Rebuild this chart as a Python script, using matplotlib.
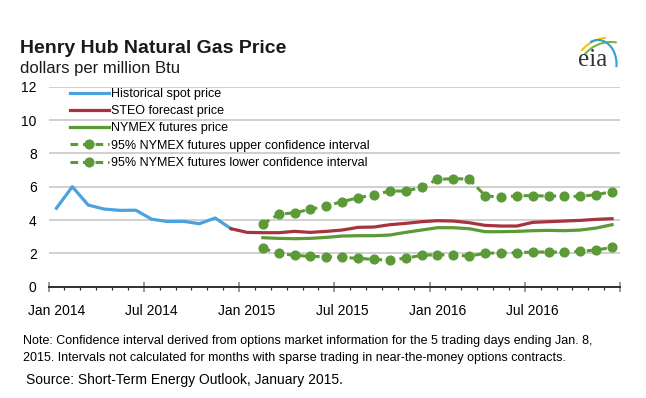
import numpy as np
import matplotlib
matplotlib.use('Agg')
import matplotlib.pyplot as plt

plt.rcParams['font.family'] = ['Liberation Sans', 'DejaVu Sans']

# meses contados a partir de Jan 2014 (0 = Jan 2014), valores em dólares por milhão de Btu
spot_months = list(range(0, 12))
spot_price = [4.71, 6.00, 4.90, 4.66, 4.58, 4.59, 4.05, 3.91, 3.92, 3.78, 4.12, 3.48]

steo_months = list(range(11, 36))
steo_price = [3.48, 3.26, 3.24, 3.24, 3.32, 3.26, 3.32, 3.40, 3.56, 3.58, 3.72, 3.80, 3.90,
              3.96, 3.94, 3.84, 3.68, 3.64, 3.64, 3.86, 3.90, 3.94, 3.98, 4.04, 4.08]

nymex_months = list(range(13, 36))
nymex_price = [2.94, 2.90, 2.88, 2.90, 2.96, 3.04, 3.06, 3.06, 3.10, 3.26, 3.40,
               3.54, 3.54, 3.48, 3.30, 3.30, 3.32, 3.36, 3.38, 3.36, 3.40, 3.52, 3.72]
upper_ci = [3.76, 4.34, 4.44, 4.64, 4.86, 5.10, 5.34, 5.50, 5.74, 5.74, 5.96,
            6.44, 6.48, 6.46, 5.46, 5.36, 5.46, 5.46, 5.44, 5.44, 5.42, 5.52, 5.70]
lower_ci = [2.30, 2.00, 1.88, 1.82, 1.80, 1.76, 1.70, 1.64, 1.58, 1.72, 1.88,
            1.92, 1.90, 1.84, 2.00, 2.04, 2.04, 2.08, 2.08, 2.08, 2.12, 2.20, 2.36]

tick_labels = ['Jan 2014', 'Jul 2014', 'Jan 2015', 'Jul 2015', 'Jan 2016', 'Jul 2016']
tick_months = [0, 6, 12, 18, 24, 30]

blue = '#4aa3df'
red = '#a6343f'
green = '#5b9a36'

W, H = 646, 398
fig = plt.figure(figsize=(W / 100, H / 100), dpi=100)
ax = fig.add_axes([48.5 / W, 1 - 286.7 / H, (620 - 48.5) / W, 200 / H])


def mid(months):
    # pontos ficam no meio de cada mês
    return np.array(months) + 0.5


ax.plot(mid(spot_months), spot_price, color=blue, lw=2.3, solid_joinstyle='round',
        label='Historical spot price')
ax.plot(mid(steo_months), steo_price, color=red, lw=2.3, label='STEO forecast price')
ax.plot(mid(nymex_months), nymex_price, color=green, lw=2.3, label='NYMEX futures price')
ax.plot(mid(nymex_months), upper_ci, color=green, lw=2.2, ls=(0, (2.5, 1.6)),
        marker='o', ms=6.3, label='95% NYMEX futures upper confidence interval')
ax.plot(mid(nymex_months), lower_ci, color=green, lw=2.2, ls=(0, (2.5, 1.6)),
        marker='o', ms=6.3, label='95% NYMEX futures lower confidence interval')

ax.set_xlim(0, 36)
ax.set_ylim(0, 12)
ax.set_yticks(range(0, 13, 2))
ax.tick_params(axis='y', length=0, pad=8.5, labelsize=10)
ax.yaxis.grid(True, color='#c4c4c4', lw=1.1)
ax.set_axisbelow(True)
for s in ['top', 'right', 'left']:
    ax.spines[s].set_visible(False)
ax.spines['bottom'].set_color('#222222')
ax.spines['bottom'].set_linewidth(1.3)

ax.set_xticks(range(0, 37, 6))
ax.set_xticks(range(0, 37), minor=True)
ax.set_xticklabels([])
ax.tick_params(axis='x', which='major', direction='inout', length=7, width=1.1, color='#808080')
ax.tick_params(axis='x', which='minor', direction='out', length=2.5, width=0.9, color='#333333')
lab_tr = matplotlib.transforms.blended_transform_factory(ax.transData, fig.transFigure)
for m, t in zip(tick_months, tick_labels):
    ax.text(m + 0.5, 1 - 311 / H, t, transform=lab_tr, ha='center', va='center', fontsize=10)

leg = ax.legend(loc='upper left', bbox_to_anchor=(70 / W, 1 - 88 / H),
                bbox_transform=fig.transFigure, frameon=False, fontsize=9,
                handlelength=3.1, handletextpad=0.2, labelspacing=0.42,
                borderpad=0, borderaxespad=0, numpoints=1)

# textos do cabeçalho e notas
fig.text(20 / W, 1 - 52.7 / H, 'Henry Hub Natural Gas Price', fontsize=14, fontweight='bold',
         va='baseline', ha='left', color='#1a1a1a')
fig.text(20 / W, 1 - 73.3 / H, 'dollars per million Btu', fontsize=12, va='baseline', ha='left',
         color='#1a1a1a')
fig.text(22.6 / W, 1 - 341 / H,
         'Note: Confidence interval derived from options market information for the 5 trading days ending Jan. 8,',
         fontsize=9, va='center', ha='left')
fig.text(22.6 / W, 1 - 358.5 / H,
         '2015. Intervals not calculated for months with sparse trading in near-the-money options contracts.',
         fontsize=9, va='center', ha='left')
fig.text(25.5 / W, 1 - 380 / H, 'Source: Short-Term Energy Outlook, January 2015.',
         fontsize=10, va='center', ha='left')

# logo eia simplificado
fig.text(593 / W, 1 - 66 / H, 'eia', family=['Liberation Serif'], fontsize=18, ha='center',
         va='baseline', color='#333333')
lax = fig.add_axes([575 / W, 1 - 68 / H, 45 / W, 34 / H])
lax.axis('off')
lax.set_xlim(575, 620)
lax.set_ylim(68, 34)
for cx, cy, rx, ry, a0, a1, c in [(610, 75, 37.5, 37.5, 138, 98, '#f2c500'),
                                  (611, 76, 34, 34, 140, 82, '#7bb342'),
                                  (598, 64, 18.5, 24, 112, -5, '#2f9fd8')]:
    th = np.radians(np.linspace(a0, a1, 40))
    lax.plot(cx + rx * np.cos(th), cy - ry * np.sin(th), color=c, lw=1.5)

fig.savefig('out.png', dpi=100)
